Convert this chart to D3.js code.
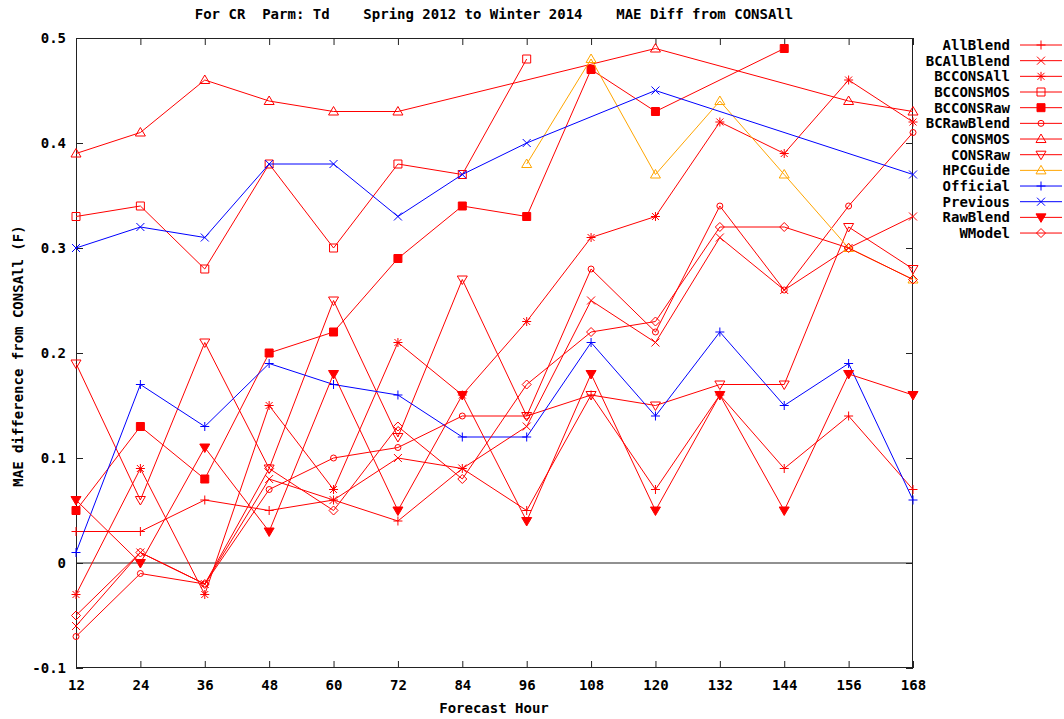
<!DOCTYPE html>
<html>
<head>
<meta charset="utf-8">
<script src="https://cdn.jsdelivr.net/npm/d3@7"></script>
<style>
  body { margin: 0; background: #fff; }
  text { font-family: "DejaVu Sans Mono", monospace; font-weight: bold; font-size: 14px; fill: #000; }
</style>
</head>
<body>
<div id="chart"></div>
<script>
// forecast hours on the x axis
const hours = [12, 24, 36, 48, 60, 72, 84, 96, 108, 120, 132, 144, 156, 168];
const yTicks = [-0.1, 0, 0.1, 0.2, 0.3, 0.4, 0.5];

// MAE difference from CONSAll, one array per model (null = no point)
const allBlend   = [0.03, 0.03, 0.06, 0.05, 0.06, 0.04, 0.09, 0.05, 0.16, 0.07, 0.16, 0.09, 0.14, 0.07];
const bcAllBlend = [-0.06, 0.01, -0.02, 0.08, 0.06, 0.10, 0.09, 0.13, 0.25, 0.21, 0.31, 0.26, 0.30, 0.33];
const bcConsAll  = [-0.03, 0.09, -0.03, 0.15, 0.07, 0.21, 0.16, 0.23, 0.31, 0.33, 0.42, 0.39, 0.46, 0.42];
const bcConsMos  = [0.33, 0.34, 0.28, 0.38, 0.30, 0.38, 0.37, 0.48, null, null, null, null, null, null];
const bcConsRaw  = [0.05, 0.13, 0.08, 0.20, 0.22, 0.29, 0.34, 0.33, 0.47, 0.43, null, 0.49, null, null];
const bcRawBlend = [-0.07, -0.01, -0.02, 0.07, 0.10, 0.11, 0.14, 0.14, 0.28, 0.22, 0.34, 0.26, 0.34, 0.41];
const consMos    = [0.39, 0.41, 0.46, 0.44, 0.43, 0.43, null, null, null, 0.49, null, null, 0.44, 0.43];
const consRaw    = [0.19, 0.06, 0.21, 0.09, 0.25, 0.12, 0.27, 0.14, 0.16, 0.15, 0.17, 0.17, 0.32, 0.28];
const hpcGuide   = [null, null, null, null, null, null, null, 0.38, 0.48, 0.37, 0.44, 0.37, 0.30, 0.27];
const official   = [0.01, 0.17, 0.13, 0.19, 0.17, 0.16, 0.12, 0.12, 0.21, 0.14, 0.22, 0.15, 0.19, 0.06];
const previous   = [0.30, 0.32, 0.31, 0.38, 0.38, 0.33, 0.37, 0.40, null, 0.45, null, null, null, 0.37];
const rawBlend   = [0.06, 0.00, 0.11, 0.03, 0.18, 0.05, 0.16, 0.04, 0.18, 0.05, 0.16, 0.05, 0.18, 0.16];
const wModel     = [-0.05, 0.01, -0.02, 0.09, 0.05, 0.13, 0.08, 0.17, 0.22, 0.23, 0.32, 0.32, 0.30, 0.27];

const seriesNames = ["AllBlend", "BCAllBlend", "BCCONSAll", "BCCONSMOS", "BCCONSRaw", "BCRawBlend",
  "CONSMOS", "CONSRaw", "HPCGuide", "Official", "Previous", "RawBlend", "WModel"];
const seriesValues = [allBlend, bcAllBlend, bcConsAll, bcConsMos, bcConsRaw, bcRawBlend,
  consMos, consRaw, hpcGuide, official, previous, rawBlend, wModel];

// look of each series
const styles = {
  AllBlend:   { color: "#ff0000", sym: "plus" },
  BCAllBlend: { color: "#ff0000", sym: "cross" },
  BCCONSAll:  { color: "#ff0000", sym: "star" },
  BCCONSMOS:  { color: "#ff0000", sym: "square" },
  BCCONSRaw:  { color: "#ff0000", sym: "squareFill" },
  BCRawBlend: { color: "#ff0000", sym: "circle" },
  CONSMOS:    { color: "#ff0000", sym: "triUp" },
  CONSRaw:    { color: "#ff0000", sym: "triDown" },
  HPCGuide:   { color: "#ffa500", sym: "triUp" },
  Official:   { color: "#0000ff", sym: "plus" },
  Previous:   { color: "#0000ff", sym: "cross" },
  RawBlend:   { color: "#ff0000", sym: "triDownFill" },
  WModel:     { color: "#ff0000", sym: "diamond" }
};

const W = 1064, H = 719;
const margin = { left: 76, right: 151, top: 38, bottom: 51 };
const x0 = margin.left, x1 = W - margin.right, y0 = margin.top, y1 = H - margin.bottom;

const svg = d3.select("#chart").append("svg")
  .attr("width", W).attr("height", H);

const x = d3.scaleLinear().domain([12, 168]).range([x0, x1]);
const y = d3.scaleLinear().domain([-0.1, 0.5]).range([y1, y0]);

const fmt = (d) => (Math.abs(d) < 1e-9 ? "0" : d.toFixed(1));

// axes with inward ticks, mirrored on top and right
const gx = svg.append("g").attr("transform", `translate(0,${y1})`)
  .call(d3.axisBottom(x).tickValues(hours).tickSize(-7).tickSizeOuter(0).tickPadding(12).tickFormat(d3.format("d")));
const gxt = svg.append("g").attr("transform", `translate(0,${y0})`)
  .call(d3.axisTop(x).tickValues(hours).tickSize(-7).tickSizeOuter(0).tickFormat(""));
const gy = svg.append("g").attr("transform", `translate(${x0},0)`)
  .call(d3.axisLeft(y).tickValues(yTicks).tickSize(-7).tickSizeOuter(0).tickPadding(10).tickFormat(fmt));
const gyr = svg.append("g").attr("transform", `translate(${x1},0)`)
  .call(d3.axisRight(y).tickValues(yTicks).tickSize(-7).tickSizeOuter(0).tickFormat(""));

[gx, gxt, gy, gyr].forEach((g) => {
  g.select(".domain").remove();
  g.selectAll(".tick line").attr("stroke", "#222");
  g.selectAll("text").attr("font-size", null).attr("font-family", null).attr("fill", "#000");
});

// zero line
svg.append("line")
  .attr("x1", x0).attr("x2", x1).attr("y1", y(0)).attr("y2", y(0))
  .attr("stroke", "#222").attr("stroke-width", 1);

// border
svg.append("rect")
  .attr("x", x0 + 0.5).attr("y", y0 + 0.5)
  .attr("width", x1 - x0 - 1).attr("height", y1 - y0 - 1)
  .attr("fill", "none").attr("stroke", "#222");

function symbolPath(sym) {
  switch (sym) {
    case "plus": return "M-4.5,0H4.5M0,-4.5V4.5";
    case "cross": return "M-4,-4L4,4M-4,4L4,-4";
    case "star": return "M-4.5,0H4.5M0,-4.5V4.5M-3.5,-3.5L3.5,3.5M-3.5,3.5L3.5,-3.5";
    case "square":
    case "squareFill": return "M-4,-4H4V4H-4Z";
    case "circle": return "M3,0A3,3 0 1,1 -3,0A3,3 0 1,1 3,0Z";
    case "triUp": return "M0,-5L5,3.5H-5Z";
    case "triDown":
    case "triDownFill": return "M0,5L5,-3.5H-5Z";
    case "diamond": return "M0,-4.5L4.5,0L0,4.5L-4.5,0Z";
  }
}
const filled = (sym) => sym === "squareFill" || sym === "triDownFill";

const line = d3.line().x((d) => x(d.h)).y((d) => y(d.v));

seriesNames.forEach((name, i) => {
  const st = styles[name];
  const pts = hours.map((h, j) => ({ h, v: seriesValues[i][j] })).filter((d) => d.v != null);
  const g = svg.append("g");
  g.append("path").datum(pts)
    .attr("d", line)
    .attr("fill", "none")
    .attr("stroke", st.color)
    .attr("stroke-width", 1);
  g.selectAll("path.pt").data(pts).join("path")
    .attr("class", "pt")
    .attr("transform", (d) => `translate(${x(d.h)},${y(d.v)})`)
    .attr("d", symbolPath(st.sym))
    .attr("fill", filled(st.sym) ? st.color : "none")
    .attr("stroke", st.color)
    .attr("stroke-width", 1);
});

// legend
const legend = svg.append("g");
seriesNames.forEach((name, i) => {
  const st = styles[name];
  const ly = 45 + i * 15.67;
  legend.append("text")
    .attr("x", 1010).attr("y", ly).attr("dy", "0.35em")
    .attr("text-anchor", "end")
    .text(name);
  legend.append("line")
    .attr("x1", 1020).attr("x2", 1062).attr("y1", ly).attr("y2", ly)
    .attr("stroke", st.color).attr("stroke-width", 1);
  legend.append("path")
    .attr("transform", `translate(1041,${ly})`)
    .attr("d", symbolPath(st.sym))
    .attr("fill", filled(st.sym) ? st.color : "none")
    .attr("stroke", st.color);
});

// titles
svg.append("text")
  .attr("x", 494).attr("y", 19)
  .attr("text-anchor", "middle")
  .attr("xml:space", "preserve")
  .style("white-space", "pre")
  .text("For CR  Parm: Td    Spring 2012 to Winter 2014    MAE Diff from CONSAll");

svg.append("text")
  .attr("x", 494).attr("y", 713)
  .attr("text-anchor", "middle")
  .text("Forecast Hour");

svg.append("text")
  .attr("transform", `translate(23,${(y0 + y1) / 2 + 3}) rotate(-90)`)
  .attr("text-anchor", "middle")
  .text("MAE difference from CONSAll (F)");
</script>
</body>
</html>
